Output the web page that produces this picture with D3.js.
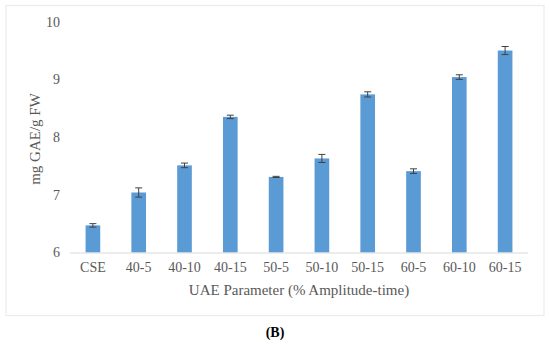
<!DOCTYPE html>
<html><head><meta charset="utf-8">
<script src="https://cdn.jsdelivr.net/npm/d3@7"></script>
<style>body{margin:0;background:#fff;} svg{display:block;}</style>
</head><body>
<script>
const categories = ["CSE","40-5","40-10","40-15","50-5","50-10","50-15","60-5","60-10","60-15"];
const values = [6.47,7.04,7.51,8.35,7.31,7.63,8.74,7.41,9.04,9.50];
const errors = [0.03,0.08,0.04,0.03,0.01,0.07,0.045,0.04,0.04,0.07];
const yTicks = [6,7,8,9,10];

const W = 550, H = 345;
const svg = d3.select("body").append("svg").attr("width", W).attr("height", H);
const font = "'Liberation Serif','Times New Roman',serif";

svg.append("rect").attr("x",6).attr("y",5.5).attr("width",538).attr("height",310)
  .attr("fill","#fff").attr("stroke","#ebebeb").attr("stroke-width",1.2);

const x = d3.scaleBand().domain(categories).range([70,528]).paddingInner(0.68).paddingOuter(0.34);
const y = d3.scaleLinear().domain([6,10]).range([252.5,21.7]);

const g = svg.append("g");
g.selectAll("rect.bar").data(categories).join("rect").attr("class","bar")
  .attr("x", d => x(d)).attr("width", x.bandwidth())
  .attr("y", (d,i) => y(values[i])).attr("height", (d,i) => y(6) - y(values[i]))
  .attr("fill","#5B9BD5");

// error bars
const eb = g.selectAll("g.err").data(categories).join("g").attr("class","err");
eb.append("line").attr("x1", d => x(d)+x.bandwidth()/2).attr("x2", d => x(d)+x.bandwidth()/2)
  .attr("y1",(d,i)=>y(values[i]-errors[i])).attr("y2",(d,i)=>y(values[i]+errors[i]))
  .attr("stroke","#404040").attr("stroke-width",1);
[1,-1].forEach(s=>{
  eb.append("line").attr("x1", d => x(d)+x.bandwidth()/2-3.5).attr("x2", d => x(d)+x.bandwidth()/2+3.5)
    .attr("y1",(d,i)=>y(values[i]+s*errors[i])).attr("y2",(d,i)=>y(values[i]+s*errors[i]))
    .attr("stroke","#404040").attr("stroke-width",1);
});

// x axis
const xAxis = svg.append("g").attr("transform",`translate(0,${y(6)})`)
  .call(d3.axisBottom(x).tickSize(0).tickPadding(10));
xAxis.select(".domain").attr("stroke","#d9d9d9").attr("d","M70,0.5H528");
xAxis.selectAll("text").attr("font-family",font).attr("font-size",14).attr("fill","#595959");

// y axis
const yAxis = svg.append("g").attr("transform","translate(70,0)")
  .call(d3.axisLeft(y).tickValues(yTicks).tickSize(0).tickPadding(10).tickFormat(d3.format("d")));
yAxis.select(".domain").remove();
yAxis.selectAll("text").attr("font-family",font).attr("font-size",14).attr("fill","#595959");

svg.append("text").attr("x",299).attr("y",295).attr("text-anchor","middle")
  .attr("font-family",font).attr("font-size",15).attr("fill","#595959")
  .text("UAE Parameter (% Amplitude-time)");
svg.append("text").attr("transform","translate(40,139) rotate(-90)").attr("text-anchor","middle")
  .attr("font-family",font).attr("font-size",15).attr("fill","#595959")
  .text("mg GAE/g FW");
svg.append("text").attr("x",275).attr("y",337).attr("text-anchor","middle")
  .attr("font-family",font).attr("font-size",14).attr("font-weight","bold").attr("fill","#000")
  .text("(B)");
</script>
</body></html>
